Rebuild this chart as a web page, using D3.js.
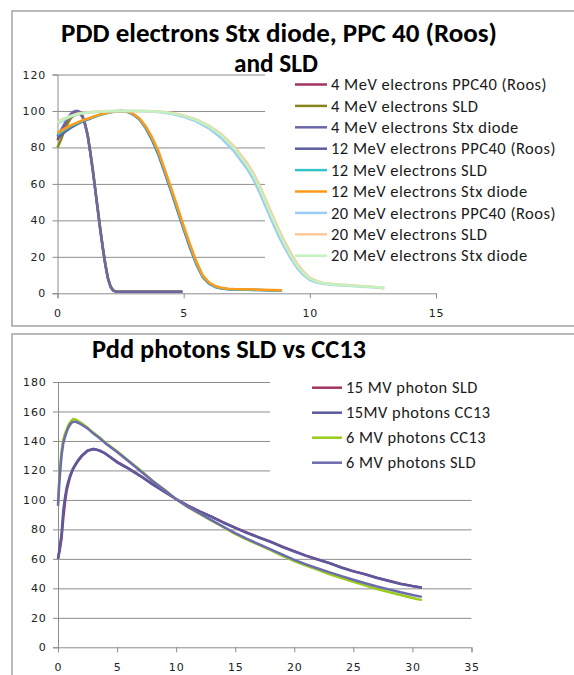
<!DOCTYPE html>
<html>
<head>
<meta charset="utf-8">
<script src="https://cdn.jsdelivr.net/npm/d3@7"></script>
<style>
  body { margin: 0; background: #fff; }
  svg { display: block; }
</style>
</head>
<body>
<div id="chart"></div>
<script>
// ---- top chart: electron PDDs ----
const e4Depth = [0,0.1,0.2,0.3,0.4,0.5,0.6,0.7,0.8,0.9,1.0,1.1,1.2,1.3,1.4,1.5,1.6,1.7,1.8,1.9,2.0,2.1,2.2,2.3,2.4,2.6,3,3.5,4,4.5,4.95];
const e4Roos = [84,87,89.5,92,94.5,97,98.6,99.5,100,99.2,97,92.5,86.5,77.5,67.5,56.5,45.5,34.5,24.5,15.5,8,3.8,1.6,1,0.8,0.8,0.8,0.8,0.8,0.8,0.8];
const e4Sld  = [80,83,86.5,90,93,95.5,97,98,98.5,98.3,96.5,92.5,86.5,77.5,68,57,46,35,25,16,8.5,4,1.8,1.1,0.8,0.8,0.8,0.8,0.8,0.8,0.8];
const e4Stx  = [86,88.5,91,93.5,96,98,99.3,100,100,99,96.5,92,86,77,67,56,45,34,24,15,8,3.5,1.5,1,0.8,0.8,0.8,0.8,0.8,0.8,0.8];

const e12Depth = [0,0.25,0.5,0.75,1,1.25,1.5,1.75,2,2.25,2.5,2.75,3,3.25,3.5,3.75,4,4.25,4.5,4.75,5,5.25,5.5,5.75,6,6.25,6.5,6.75,7,7.5,8,8.5,8.9];
const e12Roos = [85,88,90.5,92.5,94.3,95.6,97,98.2,99.1,99.7,100,99.6,98,95.3,90.5,84,76,66,56,45.5,35,25,16,9,5.3,3.5,2.6,2.2,2,1.9,1.8,1.6,1.5];
const e12Sld  = [87,89.3,91.5,93,94.6,95.8,97,98,99,99.6,100,99.7,98.2,95.6,91,84.8,77,67,57,46.5,36,26,16.5,9.3,5.5,3.6,2.7,2.3,2.1,2,1.8,1.6,1.5];
const e12Stx  = [88,90,92,93.5,95,96,97.3,98.3,99.2,99.8,100,99.8,98.5,96,91.5,85.5,78,68,58,47.5,37,27,17.5,10,6,4,3,2.5,2.3,2.2,2,1.8,1.7];

const e20Depth = [0,0.25,0.5,0.75,1,1.5,2,2.5,3,3.5,4,4.5,5,5.5,6,6.5,7,7.5,7.75,8,8.25,8.5,8.75,9,9.25,9.5,9.75,10,10.25,10.5,11,11.5,12,12.5,12.95];
const e20Roos = [93,95,96.8,98,98.8,99.4,99.8,100,100,99.9,99.4,98.4,96.8,94.3,90.5,85,77.8,68.5,62.8,55.5,47.5,39.5,31.8,25,19,13.8,10,7.3,6,5.2,4.6,4.1,3.7,3.3,2.8];
const e20Sld  = [94,95.8,97.2,98.3,99,99.6,100,100,100,100,99.7,99,97.6,95.4,92,87.2,80.5,71.8,66.3,59.5,51.5,43.5,35.5,28.5,22,16.2,11.8,8.6,6.9,5.8,5,4.5,4,3.6,2.8];
const e20Stx  = [93.5,95.5,97,98.2,98.9,99.5,99.9,100,100,100,99.6,98.8,97.3,95,91.5,86.5,79.5,70.5,65,58,50,42,34,27,20.5,15,11,8,6.5,5.5,4.8,4.3,3.9,3.5,3];

const electronLabels = ["4 MeV electrons PPC40 (Roos)","4 MeV electrons SLD","4 MeV electrons Stx diode",
  "12 MeV electrons PPC40 (Roos)","12 MeV electrons SLD","12 MeV electrons Stx diode",
  "20 MeV electrons PPC40 (Roos)","20 MeV electrons SLD","20 MeV electrons Stx diode"];
const electronColors = ["#a23462","#86861c","#6b68a8","#5e5e9e","#36c3c9","#ff9b1a","#9ccbf5","#fcc99a","#c3f2bf"];
const electronTicksX = [0,5,10,15];
const electronTicksY = [0,20,40,60,80,100,120];

// ---- bottom chart: photon PDDs ----
const p15Depth = [0,0.15,0.3,0.45,0.6,0.75,1,1.25,1.5,1.75,2,2.5,3,3.5,4,5,6,7,8,9,10,11,12,13,14,15,16,17,18,19,20,21,22,23,24,25,26,27,28,29,30,30.8];
const p15Sld  = [60,66,74,88,99,107,115,120.5,124,127,129.5,133.3,134.5,133.6,131.5,125.8,121.2,116.2,110.8,105.6,100.6,96.2,92.2,88.6,84.8,81.2,77.8,74.6,71.6,68.3,65.2,62.2,59.6,57.1,54.2,51.7,49.6,47.2,45.2,43.2,41.6,40.5];
const p15Cc13 = [60,68,77,93,102,109,116,121,124.5,127.5,130,133.5,134.5,133.5,131.5,125.5,121,116,110.5,105.5,100.5,96,92,88.5,84.5,81,77.5,74.5,71.5,68,65,62,59.5,57,54,51.5,49.5,47,45,43,41.5,40.5];

const p6Depth = [0,0.1,0.2,0.3,0.45,0.6,0.75,0.9,1.1,1.3,1.5,1.8,2.1,2.5,3,3.5,4,5,6,7,8,9,10,11,12,13,14,15,16,17,18,19,20,21,22,23,24,25,26,27,28,29,30,30.8];
const p6Cc13 = [98,113,124,133,141,145,148,151,153.5,155,154.5,153,151.5,149,145.5,142.5,139,133,126.5,120,113,107,100.5,95,90.5,86,81.5,77,73,69.5,66,62,58.5,55.5,52.5,49.5,47,44.5,42,39.5,37.5,35.5,33.5,32];
const p6Sld  = [96,110,121,130,138.5,143,146.5,149.5,152,153,153,152,150.5,148.5,145,142,138.5,132.5,126,119.5,112.8,106.8,100.5,95.3,90.8,86.3,81.8,77.5,73.5,70,66.5,62.8,59.3,56.3,53.5,50.8,48.3,45.8,43.5,41.2,39.3,37.3,35.5,34.2];

const photonLabels = ["15 MV photon SLD","15MV photons CC13","6 MV photons CC13","6 MV photons SLD"];
const photonColors = ["#a23462","#5a5aa0","#9acd1a","#6b6bae"];
const photonTicksX = [0,5,10,15,20,25,30,35];
const photonTicksY = [0,20,40,60,80,100,120,140,160,180];

const electronSeries = [
  [e4Depth, e4Roos], [e4Depth, e4Sld], [e4Depth, e4Stx],
  [e12Depth, e12Roos], [e12Depth, e12Sld], [e12Depth, e12Stx],
  [e20Depth, e20Roos], [e20Depth, e20Sld], [e20Depth, e20Stx]
].map(([xs, ys]) => xs.map((d, i) => ({ x: d, y: ys[i] })));

const photonSeries = [
  [p15Depth, p15Sld], [p15Depth, p15Cc13], [p6Depth, p6Cc13], [p6Depth, p6Sld]
].map(([xs, ys]) => xs.map((d, i) => ({ x: d, y: ys[i] })));

const width = 574;
const height = 675;
const gridColor = "#8c8c8c";
const tickFont = "'DejaVu Sans', Verdana, sans-serif";
const titleFont = "Carlito, Lato, 'Open Sans', sans-serif";

const svg = d3.select("#chart").append("svg")
    .attr("width", width)
    .attr("height", height)
    .attr("viewBox", [0, 0, width, height]);

svg.append("rect").attr("width", width).attr("height", height).attr("fill", "#fff");

// shrink/grow a text node until it is the wanted width
function fitWidth(sel, target) {
    const w = sel.node().getComputedTextLength();
    sel.attr("font-size", parseFloat(sel.attr("font-size")) * target / w);
}

function drawPanel(cfg) {
    const g = svg.append("g");

    g.append("rect")
        .attr("x", cfg.box[0]).attr("y", cfg.box[1])
        .attr("width", cfg.box[2]).attr("height", cfg.box[3])
        .attr("fill", "#fff").attr("stroke", "#a3a3a3").attr("stroke-width", 1.5);

    const x = d3.scaleLinear().domain(cfg.xDomain).range(cfg.xRange);
    const y = d3.scaleLinear().domain(cfg.yDomain).range(cfg.yRange);

    // gridlines
    g.append("g")
        .attr("transform", `translate(${cfg.xRange[0]},0)`)
        .call(d3.axisLeft(y).tickValues(cfg.yTicks.slice(1)).tickSize(-(cfg.xRange[1] - cfg.xRange[0])).tickFormat(""))
        .call(a => a.select(".domain").remove())
        .call(a => a.selectAll("line").attr("stroke", gridColor).attr("stroke-width", 1));

    // legend background hides the gridlines behind it
    g.append("rect")
        .attr("x", cfg.legendBg[0]).attr("y", cfg.legendBg[1])
        .attr("width", cfg.legendBg[2]).attr("height", cfg.legendBg[3])
        .attr("fill", "#fff");

    const gY = g.append("g")
        .attr("transform", `translate(${cfg.xRange[0]},0)`)
        .call(d3.axisLeft(y).tickValues(cfg.yTicks).tickSize(5).tickPadding(6.5));
    const gX = g.append("g")
        .attr("transform", `translate(0,${cfg.yRange[0]})`)
        .call(d3.axisBottom(x).tickValues(cfg.xTicks).tickSize(5).tickPadding(11));

    [gX, gY].forEach(a => {
        a.select(".domain").attr("stroke", gridColor);
        a.selectAll(".tick line").attr("stroke", gridColor);
        a.selectAll("text")
            .attr("font-family", tickFont)
            .attr("font-size", 11)
            .attr("letter-spacing", "0.8px")
            .attr("fill", "#222");
    });

    const line = d3.line().x(d => x(d.x)).y(d => y(d.y));
    cfg.series.forEach((s, i) => {
        g.append("path")
            .datum(s)
            .attr("fill", "none")
            .attr("stroke", cfg.colors[i])
            .attr("stroke-width", 2.5)
            .attr("stroke-linejoin", "round")
            .attr("d", line);
    });

    // titles
    cfg.titles.forEach(t => {
        const tt = g.append("text")
            .attr("x", t.x).attr("y", t.y)
            .attr("text-anchor", "middle")
            .attr("font-family", titleFont)
            .attr("font-weight", "bold")
            .attr("font-size", 20)
            .attr("fill", "#000")
            .text(t.text);
        fitWidth(tt, t.w);
    });

    // legend
    const leg = g.append("g");
    const items = cfg.labels.map((lab, i) => {
        const yy = cfg.legend.y0 + i * cfg.legend.step;
        leg.append("line")
            .attr("x1", cfg.legend.x0).attr("x2", cfg.legend.x1)
            .attr("y1", yy).attr("y2", yy)
            .attr("stroke", cfg.colors[i]).attr("stroke-width", 2.5);
        return leg.append("text")
            .attr("x", cfg.legend.tx).attr("y", yy)
            .attr("dy", "0.35em")
            .attr("font-family", titleFont)
            .attr("font-size", 13)
            .attr("letter-spacing", "0.5px")
            .attr("fill", "#1a1a1a")
            .text(lab);
    });
    const ref = items[cfg.legend.refIndex];
    fitWidth(ref, cfg.legend.refWidth);
    const fs = ref.attr("font-size");
    items.forEach(t => t.attr("font-size", fs));
}

drawPanel({
    box: [12, 11, 600, 315],
    xDomain: [0, 15], xRange: [57.5, 436],
    yDomain: [0, 120], yRange: [293.3, 74.5],
    xTicks: electronTicksX, yTicks: electronTicksY,
    legendBg: [265, 70, 320, 202],
    series: electronSeries, colors: electronColors, labels: electronLabels,
    titles: [
        { text: "PDD electrons Stx diode, PPC 40 (Roos)", x: 279, y: 42, w: 436 },
        { text: "and SLD", x: 276, y: 72, w: 84 }
    ],
    legend: { x0: 295, x1: 327, tx: 331, y0: 84.5, step: 21.4, refIndex: 3, refWidth: 229 }
});

drawPanel({
    box: [12, 334, 600, 400],
    xDomain: [0, 35], xRange: [58, 471.5],
    yDomain: [0, 180], yRange: [647.3, 382],
    xTicks: photonTicksX, yTicks: photonTicksY,
    legendBg: [270, 372, 310, 105],
    series: photonSeries, colors: photonColors, labels: photonLabels,
    titles: [
        { text: "Pdd photons SLD vs CC13", x: 229, y: 358, w: 274 }
    ],
    legend: { x0: 312, x1: 342, tx: 346, y0: 387.7, step: 25, refIndex: 1, refWidth: 147 }
});
</script>
</body>
</html>
